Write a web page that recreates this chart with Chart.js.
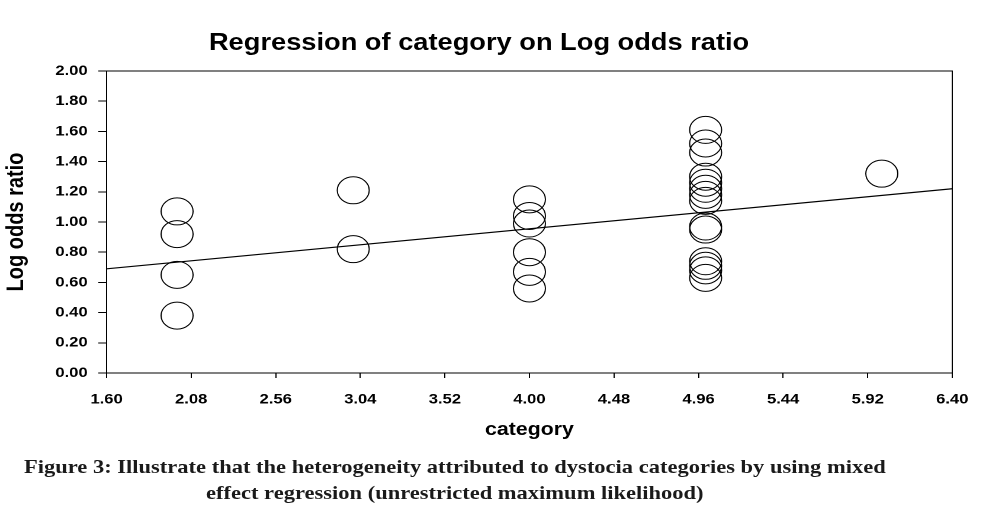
<!DOCTYPE html>
<html>
<head>
<meta charset="utf-8">
<script src="https://cdn.jsdelivr.net/npm/chart.js@4.4.1/dist/chart.umd.min.js"></script>
<style>
  body { margin: 0; background: #fff; overflow: hidden; }
  #wrap {
    position: absolute; left: 0; top: 0;
    width: 835px; height: 525px;
    transform: scaleX(1.1844); transform-origin: 0 0;
  }
  #title {
    position: absolute; left: 0; top: 30px; width: 809px;
    text-align: center;
    font: bold 23px "Liberation Sans", Arial, sans-serif;
    line-height: 24px; color: #000;
  }
  #chart { position: absolute; left: 0; top: 0; }
  #caption {
    position: absolute; left: 0; top: 454px; width: 768px;
    text-align: center;
    font: bold 19px "Liberation Serif", "Times New Roman", serif;
    line-height: 26px; color: #1a1a1a;
  }
</style>
</head>
<body>
<div id="wrap">
  <canvas id="chart" width="835" height="450"></canvas>
  <div id="title">Regression of category on Log odds ratio</div>
  <div id="caption">Figure 3: Illustrate that the heterogeneity attributed to dystocia categories by using mixed<br>effect regression (unrestricted maximum likelihood)</div>
</div>

<script>
let category = [2, 2, 2, 2,
                3, 3,
                4, 4, 4, 4, 4, 4,
                5, 5, 5, 5, 5, 5, 5, 5, 5, 5, 5, 5, 5, 5,
                6];
let logOdds = [1.07, 0.92, 0.65, 0.38,
               1.21, 0.82,
               1.15, 1.04, 0.99, 0.80, 0.67, 0.56,
               1.61, 1.52, 1.46, 1.30, 1.26, 1.22, 1.18, 1.14, 0.97, 0.95, 0.74, 0.71, 0.68, 0.63,
               1.32];

// fitted regression line (end points at the axis limits)
let fitX = [1.6, 6.4];
let fitY = [0.69, 1.22];

let xTicks = [1.60, 2.08, 2.56, 3.04, 3.52, 4.00, 4.48, 4.96, 5.44, 5.92, 6.40];
let yTicks = [0.00, 0.20, 0.40, 0.60, 0.80, 1.00, 1.20, 1.40, 1.60, 1.80, 2.00];

let points = category.map((c, i) => ({ x: c, y: logOdds[i] }));
let fitLine = fitX.map((v, i) => ({ x: v, y: fitY[i] }));

// box round the plot area
let frame = {
    id: "frame",
    afterDraw(chart) {
        let a = chart.chartArea;
        let ctx = chart.ctx;
        ctx.save();
        ctx.strokeStyle = "#000";
        ctx.lineWidth = 1;
        ctx.strokeRect(a.left, a.top, a.right - a.left, a.bottom - a.top);
        ctx.restore();
    }
};

let tickFont = { family: "'Liberation Sans', Arial, sans-serif", size: 14, weight: "bold" };

new Chart(document.getElementById("chart").getContext("2d"), {
    type: "scatter",
    data: {
        datasets: [
            {
                label: "Log odds ratio",
                data: points,
                pointStyle: "circle",
                pointRadius: 13.5,
                pointHoverRadius: 13.5,
                borderColor: "#000",
                borderWidth: 1,
                backgroundColor: "rgba(0,0,0,0)"
            },
            {
                type: "line",
                label: "fit",
                data: fitLine,
                borderColor: "#000",
                borderWidth: 1.2,
                pointRadius: 0,
                fill: false
            }
        ]
    },
    options: {
        responsive: false,
        animation: false,
        devicePixelRatio: 2,
        layout: { padding: { top: 71, right: 31, left: 0, bottom: 0 } },
        plugins: {
            legend: { display: false },
            title: { display: false },
            tooltip: { enabled: false }
        },
        scales: {
            x: {
                type: "linear",
                min: 1.6,
                max: 6.4,
                afterBuildTicks: (s) => { s.ticks = xTicks.map(v => ({ value: v })); },
                afterFit: (s) => { s.height = 77; },
                grid: { drawOnChartArea: false, drawTicks: true, tickLength: 5, color: "#000" },
                border: { color: "#000", width: 1 },
                ticks: {
                    color: "#000",
                    font: tickFont,
                    padding: 13,
                    maxRotation: 0,
                    callback: (v) => Number(v).toFixed(2)
                },
                title: {
                    display: true,
                    text: "category",
                    color: "#000",
                    font: { family: "'Liberation Sans', Arial, sans-serif", size: 18, weight: "bold" },
                    padding: { top: 0, bottom: 9 }
                }
            },
            y: {
                min: 0,
                max: 2,
                afterBuildTicks: (s) => { s.ticks = yTicks.map(v => ({ value: v })); },
                afterFit: (s) => { s.width = 90; },
                grid: { drawOnChartArea: false, drawTicks: true, tickLength: 7, color: "#000" },
                border: { color: "#000", width: 1 },
                ticks: {
                    color: "#000",
                    font: tickFont,
                    padding: 9,
                    callback: (v) => Number(v).toFixed(2)
                },
                title: {
                    display: true,
                    text: "Log odds ratio",
                    color: "#000",
                    font: { family: "'Liberation Sans', Arial, sans-serif", size: 20, weight: "bold" },
                    padding: { top: 2, bottom: 0 }
                }
            }
        }
    },
    plugins: [frame]
});
</script>
</body>
</html>
